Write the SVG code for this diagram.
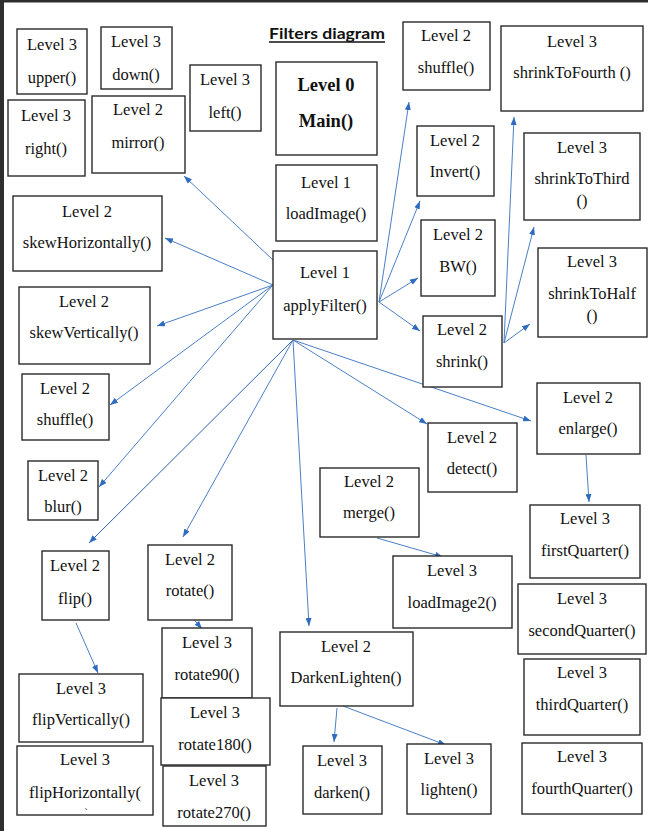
<svg xmlns="http://www.w3.org/2000/svg" width="648" height="831" viewBox="0 0 648 831">
<style>
.box{fill:#fff;stroke:#2a2a2a;stroke-width:1.4}
.t{font-family:"Liberation Serif","Times New Roman",serif;font-size:16.5px;fill:#111;text-anchor:middle}
.b{font-family:"Liberation Serif","Times New Roman",serif;font-size:18.5px;font-weight:bold;fill:#111;text-anchor:middle}
.c{fill:none;stroke:#4a7fc4;stroke-width:1;marker-end:url(#ah)}
.title{font-family:Lato,"Open Sans",sans-serif;font-size:15.5px;font-weight:bold;fill:#111}
</style>
<defs>
<marker id="ah" markerUnits="userSpaceOnUse" markerWidth="8" markerHeight="6" refX="8" refY="3" orient="auto">
<path d="M0,0 L8,3 L0,6 z" fill="#2f6bbf"/>
</marker>
</defs>
<rect x="0" y="0" width="648" height="831" fill="#fff"/>
<rect x="0" y="0" width="648" height="2.5" fill="#2e2e2e"/>
<rect x="0" y="0" width="4" height="831" fill="#2e2e2e"/>

<g id="title">
<text class="title" x="269" y="39" textLength="116" lengthAdjust="spacingAndGlyphs">Filters diagram</text>
<line x1="269" y1="42" x2="385" y2="42" stroke="#111" stroke-width="1.3"/>
</g>

<g id="connectors">
<path class="c" d="M273,260 L184,176"/>
<path class="c" d="M273,285 L165,238"/>
<path class="c" d="M273,285 L157,326"/>
<path class="c" d="M273,285 L110,405"/>
<path class="c" d="M273,285 L99,487"/>
<path class="c" style="stroke:#2a62b0" d="M293,340 L89,543"/>
<path class="c" d="M293,340 L183,537"/>
<path class="c" d="M293,340 L309,626"/>
<path class="c" d="M293,340 L427,424"/>
<path class="c" d="M293,340 L531,421"/>
<path class="c" d="M379,302 L409,102"/>
<path class="c" d="M379,302 L420,201"/>
<path class="c" d="M379,302 L418,278"/>
<path class="c" d="M379,302 L420,331"/>
<path class="c" d="M504,343 L514,117"/>
<path class="c" d="M504,343 L534,227"/>
<path class="c" d="M504,343 L530,324"/>
<path class="c" d="M586,455 L589,502"/>
<path class="c" d="M377,538 L443,557"/>
<path class="c" d="M76,623 L98,673"/>
<path class="c" d="M191,616 L202,629"/>
<path class="c" d="M337,708 L334,742"/>
<path class="c" d="M343,706 L446,745"/>
</g>

<g id="upper"><rect class="box" x="17" y="29" width="70" height="65"/><text class="t" x="52" y="50">Level 3</text><text class="t" x="52" y="83">upper()</text></g>
<g id="down"><rect class="box" x="101" y="27" width="71" height="62"/><text class="t" x="136" y="47">Level 3</text><text class="t" x="136" y="80">down()</text></g>
<g id="left"><rect class="box" x="190" y="65" width="71" height="66"/><text class="t" x="225" y="85">Level 3</text><text class="t" x="225" y="118">left()</text></g>
<g id="right"><rect class="box" x="8" y="100" width="77" height="76"/><text class="t" x="46" y="121">Level 3</text><text class="t" x="46" y="154">right()</text></g>
<g id="mirror"><rect class="box" x="92" y="96" width="93" height="77"/><text class="t" x="138" y="115">Level 2</text><text class="t" x="138" y="148">mirror()</text></g>
<g id="main"><rect class="box" x="276" y="62" width="101" height="93"/><text class="b" x="326" y="91">Level 0</text><text class="b" x="326" y="127">Main()</text></g>
<g id="loadImage"><rect class="box" x="276" y="165" width="101" height="76"/><text class="t" x="326" y="188">Level 1</text><text class="t" x="326" y="219">loadImage()</text></g>
<g id="applyFilter"><rect class="box" x="273" y="251" width="104" height="88"/><text class="t" x="325" y="278">Level 1</text><text class="t" x="325" y="311">applyFilter()</text></g>
<g id="shuffleTop"><rect class="box" x="403" y="22" width="87" height="68"/><text class="t" x="446" y="41">Level 2</text><text class="t" x="446" y="73">shuffle()</text></g>
<g id="shrinkToFourth"><rect class="box" x="501" y="26" width="142" height="85"/><text class="t" x="572" y="47">Level 3</text><text class="t" x="572" y="78">shrinkToFourth ()</text></g>
<g id="invert"><rect class="box" x="417" y="126" width="77" height="70"/><text class="t" x="455" y="146">Level 2</text><text class="t" x="455" y="177">Invert()</text></g>
<g id="shrinkToThird"><rect class="box" x="524" y="133" width="116" height="87"/><text class="t" x="582" y="153">Level 3</text><text class="t" x="582" y="184">shrinkToThird</text><text class="t" x="582" y="206">()</text></g>
<g id="bw"><rect class="box" x="421" y="220" width="74" height="76"/><text class="t" x="458" y="240">Level 2</text><text class="t" x="458" y="272">BW()</text></g>
<g id="shrinkToHalf"><rect class="box" x="538" y="248" width="109" height="89"/><text class="t" x="592" y="267">Level 3</text><text class="t" x="592" y="299">shrinkToHalf</text><text class="t" x="592" y="321">()</text></g>
<g id="shrink"><rect class="box" x="423" y="316" width="79" height="71"/><text class="t" x="462" y="335">Level 2</text><text class="t" x="462" y="367">shrink()</text></g>
<g id="enlarge"><rect class="box" x="537" y="383" width="103" height="71"/><text class="t" x="588" y="403">Level 2</text><text class="t" x="588" y="434">enlarge()</text></g>
<g id="detect"><rect class="box" x="428" y="423" width="89" height="69"/><text class="t" x="472" y="443">Level 2</text><text class="t" x="472" y="474">detect()</text></g>
<g id="skewH"><rect class="box" x="13" y="196" width="149" height="75"/><text class="t" x="87" y="217">Level 2</text><text class="t" x="87" y="248">skewHorizontally()</text></g>
<g id="skewV"><rect class="box" x="19" y="287" width="131" height="77"/><text class="t" x="84" y="307">Level 2</text><text class="t" x="84" y="338">skewVertically()</text></g>
<g id="shuffleLeft"><rect class="box" x="22" y="374" width="87" height="66"/><text class="t" x="65" y="394">Level 2</text><text class="t" x="65" y="425">shuffle()</text></g>
<g id="blur"><rect class="box" x="28" y="461" width="70" height="59"/><text class="t" x="63" y="481">Level 2</text><text class="t" x="63" y="512">blur()</text></g>
<g id="merge"><rect class="box" x="320" y="468" width="99" height="69"/><text class="t" x="369" y="487">Level 2</text><text class="t" x="369" y="518">merge()</text></g>
<g id="loadImage2"><rect class="box" x="393" y="556" width="119" height="72"/><text class="t" x="452" y="576">Level 3</text><text class="t" x="452" y="608">loadImage2()</text></g>
<g id="firstQuarter"><rect class="box" x="530" y="505" width="110" height="73"/><text class="t" x="585" y="524">Level 3</text><text class="t" x="585" y="556">firstQuarter()</text></g>
<g id="secondQuarter"><rect class="box" x="518" y="584" width="128" height="70"/><text class="t" x="582" y="604">Level 3</text><text class="t" x="582" y="636">secondQuarter()</text></g>
<g id="thirdQuarter"><rect class="box" x="524" y="659" width="116" height="76"/><text class="t" x="582" y="678">Level 3</text><text class="t" x="582" y="710">thirdQuarter()</text></g>
<g id="fourthQuarter"><rect class="box" x="522" y="743" width="120" height="71"/><text class="t" x="582" y="762">Level 3</text><text class="t" x="582" y="794">fourthQuarter()</text></g>
<g id="flip"><rect class="box" x="42" y="551" width="67" height="69"/><text class="t" x="75" y="571">Level 2</text><text class="t" x="75" y="604">flip()</text></g>
<g id="rotate"><rect class="box" x="148" y="545" width="84" height="75"/><text class="t" x="190" y="565">Level 2</text><text class="t" x="190" y="596">rotate()</text></g>
<g id="flipVertically"><rect class="box" x="19" y="674" width="124" height="68"/><text class="t" x="81" y="694">Level 3</text><text class="t" x="81" y="725">flipVertically()</text></g>
<g id="flipHorizontally"><rect class="box" x="17" y="746" width="136" height="69"/><text class="t" x="85" y="765">Level 3</text><text class="t" x="85" y="798">flipHorizontally(</text><text class="t" x="86" y="816" style="font-size:11px">`</text></g>
<g id="rotate90"><rect class="box" x="162" y="628" width="90" height="70"/><text class="t" x="207" y="648">Level 3</text><text class="t" x="207" y="680">rotate90()</text></g>
<g id="rotate180"><rect class="box" x="161" y="698" width="109" height="67"/><text class="t" x="215" y="718">Level 3</text><text class="t" x="215" y="750">rotate180()</text></g>
<g id="rotate270"><rect class="box" x="163" y="766" width="103" height="60"/><text class="t" x="214" y="786">Level 3</text><text class="t" x="214" y="818">rotate270()</text></g>
<g id="darkenLighten"><rect class="box" x="280" y="632" width="133" height="74"/><text class="t" x="346" y="652">Level 2</text><text class="t" x="346" y="683">DarkenLighten()</text></g>
<g id="darken"><rect class="box" x="303" y="746" width="79" height="68"/><text class="t" x="342" y="766">Level 3</text><text class="t" x="342" y="798">darken()</text></g>
<g id="lighten"><rect class="box" x="407" y="744" width="84" height="70"/><text class="t" x="449" y="764">Level 3</text><text class="t" x="449" y="795">lighten()</text></g>
</svg>
